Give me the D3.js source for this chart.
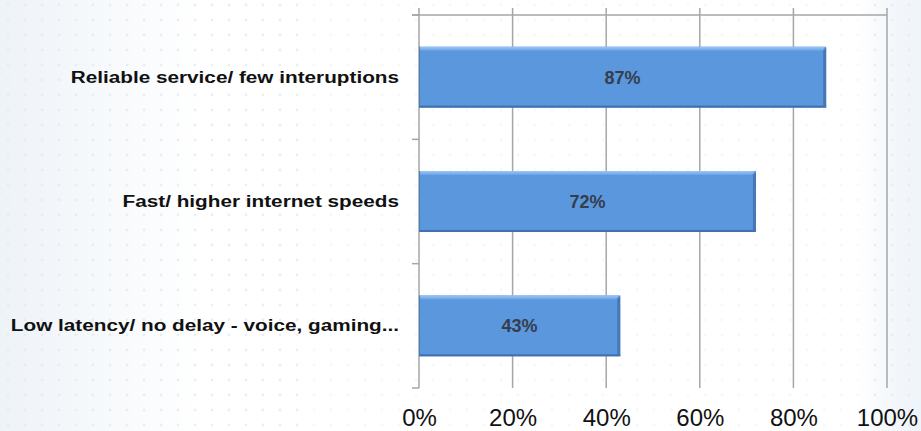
<!DOCTYPE html>
<html>
<head>
<meta charset="utf-8">
<script src="https://cdn.jsdelivr.net/npm/d3@7"></script>
<style>
  html, body { margin: 0; padding: 0; background: #ffffff; }
  svg { display: block; }
</style>
</head>
<body>
<svg id="chart" width="921" height="431"></svg>
<script>
// Survey answers: what matters most in an internet service
const categories = [
  "Reliable service/ few interuptions",
  "Fast/ higher internet speeds",
  "Low latency/ no delay - voice, gaming..."
];
const shares = [0.87, 0.72, 0.43];
const tickValues = [0, 0.2, 0.4, 0.6, 0.8, 1.0];

const W = 921, H = 431;
const plot = { left: 419, right: 887, top: 15, bottom: 388 };

const svg = d3.select("#chart");
const defs = svg.append("defs");

// soft background: pale blue fade at the edges with a faint dot grid
const bgGrad = defs.append("linearGradient").attr("id", "bgGrad")
  .attr("x1", "0").attr("x2", "1").attr("y1", "0").attr("y2", "0");
bgGrad.append("stop").attr("offset", "0").attr("stop-color", "#eef3f8");
bgGrad.append("stop").attr("offset", "0.22").attr("stop-color", "#ffffff");
bgGrad.append("stop").attr("offset", "0.93").attr("stop-color", "#ffffff");
bgGrad.append("stop").attr("offset", "0.97").attr("stop-color", "#f3f7fb");
bgGrad.append("stop").attr("offset", "1").attr("stop-color", "#eff4f9");

const dots = defs.append("pattern").attr("id", "dots")
  .attr("patternUnits", "userSpaceOnUse")
  .attr("width", 17).attr("height", 15).attr("x", 6).attr("y", 3);
dots.append("circle").attr("cx", 2).attr("cy", 2).attr("r", 1.4)
  .attr("fill", "#e3eaf2");

svg.append("rect").attr("width", W).attr("height", H).attr("fill", "url(#bgGrad)");
svg.append("rect").attr("width", W).attr("height", H).attr("fill", "url(#dots)")
  .attr("opacity", 0.8);
// keep the chart area mostly clean
svg.append("rect").attr("x", 300).attr("y", 0).attr("width", 560).attr("height", H)
  .attr("fill", "#ffffff").attr("opacity", 0.55);

// bar bevel gradients
const topGrad = defs.append("linearGradient").attr("id", "barTop")
  .attr("x1", "0").attr("x2", "0").attr("y1", "0").attr("y2", "1");
topGrad.append("stop").attr("offset", "0").attr("stop-color", "#9cc6f3");
topGrad.append("stop").attr("offset", "1").attr("stop-color", "#6aa3e4");

const x = d3.scaleLinear().domain([0, 1]).range([plot.left, plot.right]);
const y = d3.scaleBand().domain(categories)
  .range([plot.top, plot.bottom]).paddingInner(0.51).paddingOuter(0.255);

// vertical gridlines
svg.append("g").selectAll("line").data(tickValues).join("line")
  .attr("x1", d => x(d)).attr("x2", d => x(d))
  .attr("y1", 8).attr("y2", plot.bottom)
  .attr("stroke", "#a6a6a6").attr("stroke-width", 1.5);

// top border line
svg.append("line")
  .attr("x1", plot.left - 7).attr("x2", plot.right)
  .attr("y1", plot.top).attr("y2", plot.top)
  .attr("stroke", "#a6a6a6").attr("stroke-width", 1.5);

// category boundary ticks on the value axis
const step = y.step();
const bounds = d3.range(categories.length + 1).map(i => plot.top + i * step);
svg.append("g").selectAll("line").data(bounds).join("line")
  .attr("x1", plot.left - 7).attr("x2", plot.left)
  .attr("y1", d => d).attr("y2", d => d)
  .attr("stroke", "#a6a6a6").attr("stroke-width", 1.5);

// bars with a bevelled look
const data = categories.map((c, i) => ({ c, v: shares[i] }));
const bars = svg.append("g").selectAll("g").data(data).join("g");
const bh = y.bandwidth();

bars.append("rect")
  .attr("x", x(0)).attr("y", d => y(d.c))
  .attr("width", d => x(d.v) - x(0)).attr("height", bh)
  .attr("fill", "#5b97dd");
// dark bottom edge
bars.append("rect")
  .attr("x", x(0)).attr("y", d => y(d.c) + bh - 2)
  .attr("width", d => x(d.v) - x(0)).attr("height", 2)
  .attr("fill", "#3f70ad");
// dark right edge
bars.append("path")
  .attr("d", d => {
    const x1 = x(d.v), y0 = y(d.c);
    return `M${x1 - 3},${y0 + 4} L${x1},${y0 + 1} L${x1},${y0 + bh} L${x1 - 3},${y0 + bh - 2} Z`;
  })
  .attr("fill", "#4778b6");
// light top edge
bars.append("path")
  .attr("d", d => {
    const x0 = x(0), x1 = x(d.v), y0 = y(d.c);
    return `M${x0},${y0} L${x1 - 1},${y0} L${x1 - 4},${y0 + 4} L${x0},${y0 + 4} Z`;
  })
  .attr("fill", "url(#barTop)");
// thin darker outline on the left
bars.append("line")
  .attr("x1", x(0) + 0.5).attr("x2", x(0) + 0.5)
  .attr("y1", d => y(d.c)).attr("y2", d => y(d.c) + bh)
  .attr("stroke", "#4a7cba").attr("stroke-width", 1);

// value labels inside the bars
bars.append("text")
  .attr("x", d => (x(0) + x(d.v)) / 2)
  .attr("y", d => y(d.c) + bh / 2)
  .attr("dy", "0.36em")
  .attr("text-anchor", "middle")
  .attr("font-family", "'Liberation Sans', Arial, sans-serif")
  .attr("font-weight", "bold")
  .attr("font-size", 18)
  .attr("fill", "#353e4c")
  .text(d => d3.format(".0%")(d.v));

// category axis labels (set slightly wide)
const pad = 20;
const yAxis = svg.append("g")
  .attr("transform", `translate(${plot.left},0)`)
  .call(d3.axisLeft(y).tickSize(0).tickPadding(pad));
yAxis.select(".domain").remove();
yAxis.selectAll("text")
  .attr("font-family", "'Liberation Sans', Arial, sans-serif")
  .attr("font-weight", "bold")
  .attr("font-size", 17)
  .attr("fill", "#111111")
  .attr("transform", `translate(${-pad},0) scale(1.22,1) translate(${pad},0)`);

// percentage axis labels
const xAxis = svg.append("g")
  .attr("transform", `translate(0,${plot.bottom})`)
  .call(d3.axisBottom(x).tickValues(tickValues).tickSize(0).tickPadding(21)
    .tickFormat(d3.format(".0%")));
xAxis.select(".domain").remove();
xAxis.selectAll("text")
  .attr("font-family", "'Liberation Sans', Arial, sans-serif")
  .attr("font-size", 24)
  .attr("fill", "#111111");
</script>
</body>
</html>
